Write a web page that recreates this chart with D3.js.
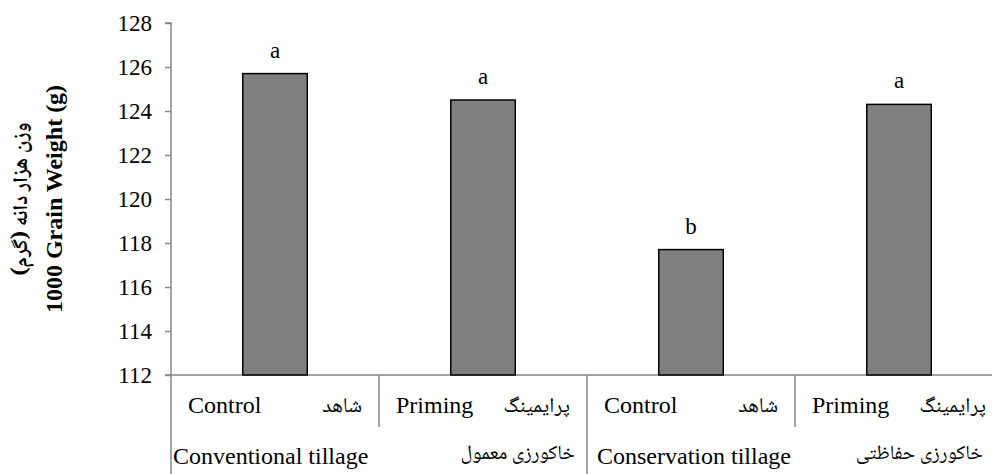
<!DOCTYPE html>
<html>
<head>
<meta charset="utf-8">
<script src="https://cdn.jsdelivr.net/npm/d3@7"></script>
<style>
  body { margin: 0; background: #fff; }
</style>
</head>
<body>
<div id="chart"></div>
<script>
// data
const treatments = ["Control", "Priming", "Control", "Priming"];
const treatmentsFa = ["شاهد", "پرایمینگ", "شاهد", "پرایمینگ"];
const groups = ["Conventional tillage", "Conservation tillage"];
const groupsFa = ["خاکورزی معمول", "خاکورزی حفاظتی"];
const grainWeight = [125.7, 124.5, 117.7, 124.3];
const letters = ["a", "a", "b", "a"];
const yTicks = [112, 114, 116, 118, 120, 122, 124, 126, 128];

const serif = "'Liberation Serif', 'Times New Roman', serif";
const farsi = "'Noto Naskh Arabic', 'DejaVu Sans', sans-serif";

const W = 992, H = 474;
const margin = { top: 23, right: -11, bottom: 99, left: 171 };
const width = W - margin.left - margin.right;
const height = H - margin.top - margin.bottom;

const svg = d3.select("#chart").append("svg")
  .attr("width", W).attr("height", H);

const g = svg.append("g")
  .attr("transform", `translate(${margin.left},${margin.top})`);

const y = d3.scaleLinear().domain([112, 128]).range([height, 0]);
const x = d3.scaleBand().domain(d3.range(4)).range([0, width]).padding(0);
const barW = x.bandwidth() * 0.31;
const axisColor = "#868686";

// y axis
const yAxis = g.append("g")
  .call(d3.axisLeft(y).tickValues(yTicks).tickSize(6).tickPadding(13).tickFormat(d3.format("d")));
yAxis.selectAll("path, line").attr("stroke", axisColor).attr("stroke-width", 1.5);
yAxis.select(".domain").attr("d", `M-6,0H0V${H - margin.top}`);
yAxis.selectAll("text")
  .style("font-size", "23px")
  .style("font-family", serif)
  .attr("fill", "#000");

// bottom axis line
g.append("line")
  .attr("x1", -6).attr("x2", width)
  .attr("y1", height).attr("y2", height)
  .attr("stroke", axisColor).attr("stroke-width", 1.5);

// separators between treatments / groups
d3.range(1, 4).forEach((i) => {
  const isGroup = i === 2;
  g.append("line")
    .attr("x1", x(i)).attr("x2", x(i))
    .attr("y1", height)
    .attr("y2", isGroup ? H - margin.top : height + 52)
    .attr("stroke", axisColor).attr("stroke-width", 1.5);
});

// bars
g.selectAll(".bar")
  .data(grainWeight)
  .join("rect")
  .attr("class", "bar")
  .attr("x", (d, i) => x(i) + (x.bandwidth() - barW) / 2)
  .attr("y", (d) => y(d))
  .attr("width", barW)
  .attr("height", (d) => height - y(d))
  .attr("fill", "#808080")
  .attr("stroke", "#000")
  .attr("stroke-width", 1.5);

// significance letters
g.selectAll(".letter")
  .data(letters)
  .join("text")
  .attr("class", "letter")
  .attr("x", (d, i) => x(i) + x.bandwidth() / 2)
  .attr("y", (d, i) => y(grainWeight[i]) - 16)
  .attr("text-anchor", "middle")
  .style("font-family", serif)
  .style("font-size", "23px")
  .text((d) => d);

// treatment row
treatments.forEach((t, i) => {
  g.append("text")
    .attr("x", x(i) + 17)
    .attr("y", height + 38)
    .style("font-family", serif)
    .style("font-size", "24px")
    .text(t);
  g.append("text")
    .attr("x", x(i) + x.bandwidth() - 17)
    .attr("y", height + 37)
    .attr("text-anchor", "end")
    .style("font-family", farsi)
    .style("font-size", "21px")
    .text(treatmentsFa[i]);
});

// tillage row
groups.forEach((t, k) => {
  const x0 = x(k * 2), x1 = x(k * 2 + 1) + x.bandwidth();
  g.append("text")
    .attr("x", x0 + (k === 0 ? 2 : 10))
    .attr("y", height + 89)
    .style("font-family", serif)
    .style("font-size", "24px")
    .text(t);
  g.append("text")
    .attr("x", x1 - (k === 0 ? 12 : 20))
    .attr("y", height + 84)
    .attr("text-anchor", "end")
    .style("font-family", farsi)
    .style("font-size", "20px")
    .text(groupsFa[k]);
});

// y axis titles
const cy = margin.top + height / 2;
svg.append("text")
  .attr("transform", `translate(27,${cy}) rotate(-90)`)
  .attr("text-anchor", "middle")
  .style("font-family", farsi)
  .style("font-size", "21px")
  .style("font-weight", "bold")
  .text("وزن هزار دانه (گرم)");
svg.append("text")
  .attr("transform", `translate(62,${cy}) rotate(-90)`)
  .attr("text-anchor", "middle")
  .style("font-family", serif)
  .style("font-size", "24px")
  .style("font-weight", "bold")
  .text("1000 Grain Weight (g)");
</script>
</body>
</html>
